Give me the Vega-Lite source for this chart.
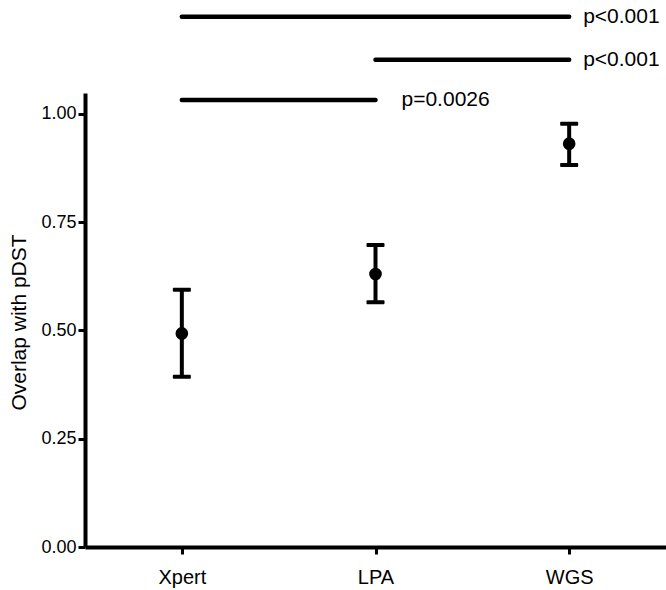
{
  "$schema": "https://vega.github.io/schema/vega-lite/v6.json",
  "width": 581,
  "height": 454,
  "autosize": "none",
  "padding": {"left": 85, "top": 93, "right": 0, "bottom": 43},
  "background": "white",
  "config": {
    "view": {"stroke": null},
    "font": "Liberation Sans",
    "axis": {"grid": false, "domainColor": "black", "tickColor": "black", "labelColor": "black", "titleColor": "black", "labelFont": "Liberation Sans", "titleFont": "Liberation Sans"},
    "axisY": {"title": "Overlap with pDST", "values": [0, 0.25, 0.5, 0.75, 1], "format": ".2f", "domainWidth": 4, "tickWidth": 3, "tickSize": 7, "labelFontSize": 18, "labelPadding": 2, "titleFontSize": 21, "titleFontWeight": "normal", "titlePadding": 11, "titleY": 229}
  },
  "datasets": {
    "pts": [
      {"group": "Xpert", "mean": 0.493, "lo": 0.393, "hi": 0.594},
      {"group": "LPA", "mean": 0.630, "lo": 0.565, "hi": 0.697},
      {"group": "WGS", "mean": 0.931, "lo": 0.882, "hi": 0.977}
    ],
    "ann": [
      {"group": "Xpert", "to": "WGS", "level": 1.224, "label": "p<0.001"},
      {"group": "LPA", "to": "WGS", "level": 1.125, "label": "p<0.001"},
      {"group": "Xpert", "to": "LPA", "level": 1.032, "label": "p=0.0026"}
    ]
  },
  "encoding": {
    "x": {
      "field": "group",
      "type": "nominal",
      "scale": {"type": "point", "domain": ["Xpert", "LPA", "WGS"], "padding": 0.5},
      "axis": {"title": null, "labelAngle": 0, "domainWidth": 4, "tickWidth": 3, "tickSize": 7, "labelFontSize": 20, "labelPadding": 13}
    }
  },
  "layer": [
    {
      "data": {"name": "pts"},
      "mark": {"type": "rule", "strokeWidth": 4, "color": "black"},
      "encoding": {
        "y": {
          "field": "lo",
          "type": "quantitative",
          "title": "Overlap with pDST",
          "scale": {"domain": [0, 1.048], "nice": false, "zero": true},
          "axis": {"title": "Overlap with pDST", "values": [0, 0.25, 0.5, 0.75, 1], "format": ".2f", "domainWidth": 4, "tickWidth": 3, "tickSize": 7, "labelFontSize": 18, "labelPadding": 2, "titleFontSize": 21, "titleFontWeight": "normal", "titlePadding": 11, "titleY": 229}
        },
        "y2": {"field": "hi"}
      }
    },
    {
      "data": {"name": "pts"},
      "mark": {"type": "tick", "size": 18, "thickness": 4, "color": "black", "opacity": 1, "cornerRadius": 1},
      "encoding": {"y": {"field": "lo", "type": "quantitative", "title": "Overlap with pDST"}}
    },
    {
      "data": {"name": "pts"},
      "mark": {"type": "tick", "size": 18, "thickness": 4, "color": "black", "opacity": 1, "cornerRadius": 1},
      "encoding": {"y": {"field": "hi", "type": "quantitative", "title": "Overlap with pDST"}}
    },
    {
      "data": {"name": "pts"},
      "mark": {"type": "point", "filled": true, "shape": "circle", "size": 160, "color": "black", "opacity": 1},
      "encoding": {"y": {"field": "mean", "type": "quantitative", "title": "Overlap with pDST"}}
    },
    {
      "data": {"name": "ann"},
      "mark": {"type": "rule", "strokeWidth": 4.5, "strokeCap": "round", "color": "black"},
      "encoding": {
        "x2": {"field": "to"},
        "y": {"field": "level", "type": "quantitative", "title": "Overlap with pDST"}
      }
    },
    {
      "data": {"name": "ann"},
      "transform": [{"filter": "datum.to === 'WGS'"}],
      "mark": {"type": "text", "align": "left", "baseline": "middle", "dx": 14, "fontSize": 21, "color": "black"},
      "encoding": {
        "x": {"field": "to", "type": "nominal"},
        "y": {"field": "level", "type": "quantitative", "title": "Overlap with pDST"},
        "text": {"field": "label"}
      }
    },
    {
      "data": {"name": "ann"},
      "transform": [{"filter": "datum.to === 'LPA'"}],
      "mark": {"type": "text", "align": "left", "baseline": "middle", "dx": 26, "fontSize": 21, "color": "black"},
      "encoding": {
        "x": {"field": "to", "type": "nominal"},
        "y": {"field": "level", "type": "quantitative", "title": "Overlap with pDST"},
        "text": {"field": "label"}
      }
    }
  ]
}
